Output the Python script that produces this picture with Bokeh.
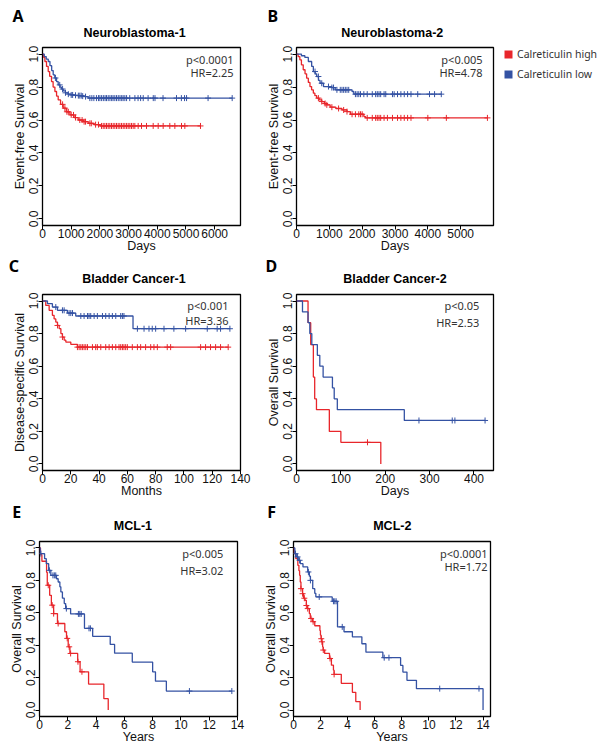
from bokeh.plotting import figure
from bokeh.models import (Range1d, FixedTicker, PrintfTickFormatter, Label, Title,
                          Legend, LegendItem)
from bokeh.layouts import row, column
from bokeh.embed import file_html
from bokeh.resources import INLINE

RED = "#e8262b"
BLUE = "#3452a3"

# ---------------- Panel A: Neuroblastoma-1 (days) ----------------
a_high_t = [40, 83, 140, 199, 250, 314, 370, 432, 490, 547, 630, 721, 830, 955, 1100, 1244, 1420, 1592, 1800, 2000]
a_high_s = [0.98, 0.955, 0.925, 0.894, 0.865, 0.833, 0.80, 0.773, 0.745, 0.722, 0.695, 0.672, 0.65, 0.631, 0.615, 0.600, 0.59, 0.58, 0.572, 0.564]
a_high_c = [700, 780, 850, 900, 1000, 1080, 1150, 1300, 1380, 1450, 1500, 1650, 1700, 1850, 1950,
            2057, 2115, 2173, 2231, 2289, 2347, 2405, 2463, 2521, 2579, 2637, 2695, 2753, 2812, 2870,
            2930, 2986, 3044, 3102, 3160, 3218, 3334, 3450, 3624, 3857, 4031, 4205, 4437, 4612, 4844, 4960, 5505]
a_low_t = [60, 130, 200, 260, 320, 373, 430, 490, 547, 610, 660, 721, 800, 895, 1000, 1120, 1244, 1360, 1477, 1592]
a_low_s = [0.985, 0.97, 0.955, 0.93, 0.90, 0.874, 0.855, 0.833, 0.813, 0.80, 0.788, 0.777, 0.765, 0.757, 0.752, 0.75, 0.748, 0.745, 0.742, 0.733]
a_low_c = [450, 600, 700, 800, 900, 1000, 1050, 1150, 1250, 1300, 1350, 1400, 1500,
           1650, 1720, 1790, 1880, 1950, 2000, 2060, 2120, 2180, 2230, 2290, 2350, 2410, 2460, 2520,
           2580, 2640, 2700, 2760, 2810, 2870, 2930, 3040, 3220, 3330, 3420, 3510, 3680, 3860, 3920,
           4200, 4670, 4840, 4950, 5020, 5770, 6610]

# ---------------- Panel B: Neuroblastoma-2 (days) ----------------
b_high_t = [50, 102, 150, 205, 260, 308, 360, 410, 460, 513, 560, 615, 690, 769, 850, 923, 1025, 1200, 1385, 1538, 1640, 2051, 2103]
b_high_s = [0.985, 0.965, 0.935, 0.905, 0.88, 0.854, 0.828, 0.803, 0.783, 0.763, 0.748, 0.733, 0.722, 0.712, 0.70, 0.692, 0.678, 0.67, 0.661, 0.651, 0.635, 0.621, 0.613]
b_high_c = [667, 769, 872, 923, 1077, 1282, 1436, 1538, 1692, 1795, 1897, 1949, 2000,
            2154, 2308, 2410, 2461, 2513, 2564, 2667, 2769, 2923, 3077, 3179, 3282, 3384, 3487, 4000, 4564, 5815]
b_low_t = [150, 255, 360, 462, 513, 570, 615, 670, 717, 822, 1077, 1180, 1692, 1745]
b_low_s = [0.99, 0.98, 0.955, 0.925, 0.894, 0.88, 0.864, 0.84, 0.823, 0.803, 0.797, 0.783, 0.773, 0.757]
b_low_c = [564, 667, 769, 974, 1077, 1128, 1231, 1333, 1385, 1436, 1487, 1538, 1590, 1795, 1846, 1897,
           1949, 2051, 2154, 2308, 2410, 2461, 2513, 2564, 2667, 2718, 2923, 2974, 3077, 3179, 3282,
           3384, 3487, 3692, 4051, 4205, 4410]

# ---------------- Panel C: Bladder Cancer-1 (months) ----------------
c_high_t = [2.3, 4.7, 7, 8.2, 9.4, 10.6, 11.8, 13, 14.1, 15.3, 16.5, 20, 24.7]
c_high_s = [0.973, 0.943, 0.912, 0.89, 0.871, 0.85, 0.83, 0.80, 0.779, 0.76, 0.748, 0.734, 0.717]
c_high_c = [10.6, 14.1, 24.7, 25.9, 27.1, 28.2, 29.4, 30.6, 31.8, 35.3, 37.6, 38.8, 41.2, 44.7, 47.1,
            49.4, 51.8, 54.1, 55.3, 56.5, 57.6, 58.8, 60, 63.5, 67.1, 69.4, 72.9, 76.5, 78.8, 81.2,
            88.2, 90.6, 111.8, 115.3, 118.8, 122.4, 125.9, 131.3]
c_low_t = [3.5, 7, 10.6, 17.6, 23.5, 64]
c_low_s = [0.984, 0.963, 0.943, 0.926, 0.908, 0.83]
c_low_c = [9.4, 14.1, 15.3, 18.8, 20, 21.2, 27.1, 29.4, 31.8, 32.9, 34.1, 36.5, 38.8, 42.4, 44.7, 47.1,
           49.4, 51.8, 55.3, 56.5, 57.6, 67.1, 71.8, 75.3, 77.6, 80, 85.9, 92.9, 101.2, 116.5, 123.5,
           125.9, 132.5]

# ---------------- Panel D: Bladder Cancer-2 (days) ----------------
d_high_t = [26, 32, 38, 41, 45, 74, 100, 190]
d_high_s = [0.867, 0.733, 0.533, 0.4, 0.333, 0.2, 0.133, 0.0]
d_high_c = [160]
d_low_t = [13.5, 26, 30, 34.5, 47, 52.5, 60, 81, 85, 92, 243]
d_low_s = [0.933, 0.867, 0.8, 0.733, 0.667, 0.6, 0.533, 0.467, 0.4, 0.333, 0.267]
d_low_c = [276, 351, 357, 425]

# ---------------- Panel E: MCL-1 (years) ----------------
e_high_t = [0.07, 0.17, 0.5, 0.55, 0.72, 0.84, 1.0, 1.27, 1.79, 1.91, 2.03, 2.15, 2.70, 2.87, 3.47, 4.55, 4.86]
e_high_s = [0.959, 0.918, 0.85, 0.77, 0.708, 0.647, 0.595, 0.534, 0.483, 0.442, 0.39, 0.349, 0.298, 0.236, 0.16, 0.07, 0.0]
e_high_c = [0.62, 0.9, 1.0, 1.32, 1.96, 2.1, 2.2, 2.72, 3.0]
e_low_t = [0.05, 0.36, 0.48, 0.65, 0.8, 1.2, 1.32, 1.44, 1.51, 1.62, 1.75, 1.85, 2.2, 3.18, 3.76, 5.0, 5.31, 6.56, 8.0, 8.2, 8.97]
e_low_s = [0.965, 0.934, 0.903, 0.862, 0.831, 0.81, 0.79, 0.76, 0.729, 0.69, 0.657, 0.626, 0.593, 0.504, 0.455, 0.405, 0.351, 0.296, 0.236, 0.178, 0.117]
e_low_c = [0.1, 0.7, 0.95, 1.05, 1.15, 1.9, 2.75, 2.85, 2.95, 3.5, 3.6, 10.6, 13.6]

# ---------------- Panel F: MCL-2 (years) ----------------
f_high_t = [0.05, 0.17, 0.32, 0.4, 0.45, 0.5, 0.55, 0.67, 0.75, 0.85, 0.95, 1.04, 1.17, 1.24, 1.4, 1.57, 1.95,
            1.99, 2.04, 2.09, 2.15, 2.19, 2.3, 2.66, 2.8, 2.95, 3.0, 3.53, 4.35, 4.6, 4.92]
f_high_s = [0.965, 0.934, 0.893, 0.86, 0.831, 0.79, 0.749, 0.718, 0.69, 0.677, 0.645, 0.626, 0.595, 0.565, 0.545,
            0.52, 0.49, 0.462, 0.44, 0.421, 0.39, 0.37, 0.349, 0.318, 0.277, 0.246, 0.22, 0.165, 0.109, 0.052, 0.0]
f_high_c = [0.55, 0.67, 0.8, 0.95, 1.05, 1.3, 1.45, 2.05, 2.1, 2.2, 2.7, 3.0]
f_low_t = [0.1, 0.2, 0.35, 0.5, 0.7, 1.05, 1.17, 1.25, 1.42, 1.57, 1.65, 2.86, 3.25, 3.73, 4.35, 5.05, 5.35,
           6.6, 7.91, 8.08, 8.38, 9.08, 14.0]
f_low_s = [0.965, 0.945, 0.924, 0.903, 0.883, 0.852, 0.826, 0.8, 0.749, 0.72, 0.698, 0.671, 0.513, 0.483, 0.452,
           0.409, 0.357, 0.323, 0.275, 0.234, 0.183, 0.132, 0.0]
f_low_c = [0.15, 0.3, 0.45, 1.1, 1.25, 1.9, 2.95, 3.05, 3.15, 3.6, 6.7, 7.05, 10.8, 13.7]

y_ticks = [0.0, 0.2, 0.4, 0.6, 0.8, 1.0]
legend_labels = ["Calreticulin high", "Calreticulin low"]

SANS = "Liberation Sans"
MYR = "Noto Sans"
Y0, Y1 = -0.04, 1.04


def km_line(t, s, end):
    xs = [0.0] + list(t)
    ys = [1.0] + list(s)
    if end > xs[-1]:
        xs.append(end)
        ys.append(ys[-1])
    return xs, ys


def surv_at(t, s, c):
    v = 1.0
    for ti, si in zip(t, s):
        if ti <= c:
            v = si
    return v


def make_panel(width, height, left, right, top, bottom, xr, xticks, xlabel, ylabel,
               title, letter, head, curves, ptxt, hrtxt, tx, ty1, ty2):
    p = figure(width=width, height=height, x_range=Range1d(*xr), y_range=Range1d(Y0, Y1),
               output_backend="svg", toolbar_location=None,
               min_border_left=left, min_border_right=right,
               min_border_top=top, min_border_bottom=bottom)
    p.background_fill_color = "white"
    p.border_fill_color = "white"
    p.outline_line_color = "black"
    p.outline_line_width = 1.3
    p.xgrid.grid_line_color = None
    p.ygrid.grid_line_color = None

    p.xaxis.ticker = FixedTicker(ticks=xticks)
    p.yaxis.ticker = FixedTicker(ticks=y_ticks)
    p.yaxis.formatter = PrintfTickFormatter(format="%.1f")
    p.yaxis.major_label_orientation = "vertical"
    for ax in (p.xaxis, p.yaxis):
        ax.axis_line_color = None
        ax.major_tick_out = 4
        ax.major_tick_in = 0
        ax.major_tick_line_color = "black"
        ax.minor_tick_line_color = None
        ax.major_label_text_font = SANS
        ax.major_label_text_font_size = "12px"
        ax.major_label_text_color = "#111111"
        ax.axis_label_text_font = SANS
        ax.axis_label_text_font_size = "12.5px"
        ax.axis_label_text_font_style = "normal"
        ax.axis_label_text_color = "#111111"
        ax.major_label_standoff = 0
        ax.axis_label_standoff = 0
    p.xaxis.major_label_standoff = -1
    p.xaxis.axis_label_standoff = -2
    p.xaxis.axis_label = xlabel
    p.yaxis.axis_label = ylabel

    for t, s, cens, color in curves:
        end = max([t[-1]] + list(cens))
        xs, ys = km_line(t, s, end)
        p.step(xs, ys, mode="after", line_color=color, line_width=1.3)
        cy = [surv_at(t, s, c) for c in cens]
        p.scatter(cens, cy, marker="cross", size=6, line_color=color, line_width=1)

    for txt, yy in ((ptxt, ty1), (hrtxt, ty2)):
        p.add_layout(Label(x=tx, y=yy, text=txt, text_align="right", text_baseline="middle",
                           text_font=MYR, text_font_size="11px", text_color="#333333"))

    # panel title (nearest the frame) and the panel letter stacked above it
    l_off, l_stand, t_off, t_stand = head
    p.add_layout(Title(text=title, align="left", offset=t_off, vertical_align="top",
                       standoff=t_stand, text_font=SANS, text_font_size="12.5px",
                       text_font_style="bold", text_color="black"), "above")
    p.add_layout(Title(text=letter, align="left", offset=l_off, vertical_align="bottom",
                       standoff=l_stand, text_font=MYR, text_font_size="16px",
                       text_font_style="bold", text_color="black"), "above")
    return p


pA = make_panel(255, 256, 42, 15, 47, 31, (0, 6900), [0, 1000, 2000, 3000, 4000, 5000, 6000],
                "Days", "Event-free Survival", "Neuroblastoma-1", "A", (-30, -12, 41, 10.6),
                [(a_high_t, a_high_s, a_high_c, RED), (a_low_t, a_low_s, a_low_c, BLUE)],
                "p<0.0001", "HR=2.25", 6656, 0.967, 0.886)
pB = make_panel(245, 256, 41, 7, 47, 31, (0, 6000), [0, 1000, 2000, 3000, 4000, 5000],
                "Days", "Event-free Survival", "Neuroblastoma-2", "B", (-29, -12, 44.7, 10.6),
                [(b_high_t, b_high_s, b_high_c, RED), (b_low_t, b_low_s, b_low_c, BLUE)],
                "p<0.005", "HR=4.78", 5665, 0.967, 0.886)

# legend-only figure to the right of panel B (its swatches sit outside its own ranges)
pL = figure(width=103, height=256, x_range=Range1d(0, 1), y_range=Range1d(0, 1),
            output_backend="svg", toolbar_location=None,
            x_axis_location=None, y_axis_location=None,
            min_border_left=3, min_border_top=45, min_border_right=0, min_border_bottom=0)
pL.outline_line_color = None
pL.grid.grid_line_color = None
pL.border_fill_color = "white"
r_hi = pL.quad(left=[5], right=[6], bottom=[5], top=[6], fill_color=RED, line_color=None)
r_lo = pL.quad(left=[5], right=[6], bottom=[5], top=[6], fill_color=BLUE, line_color=None)
legend = Legend(items=[LegendItem(label=legend_labels[0], renderers=[r_hi]),
                       LegendItem(label=legend_labels[1], renderers=[r_lo])],
                location="top_left", border_line_color=None, background_fill_alpha=0,
                label_text_font=MYR, label_text_font_size="10.5px", label_text_color="#333333",
                glyph_width=10, glyph_height=10, label_height=10, spacing=6,
                label_standoff=4, padding=0, margin=0)
pL.add_layout(legend)

pC = make_panel(255, 244, 42, 15, 38, 30, (0, 140), [0, 20, 40, 60, 80, 100, 120, 140],
                "Months", "Disease-specific Survival", "Bladder Cancer-1", "C", (-33.7, -23.6, 39.7, 12.6),
                [(c_high_t, c_high_s, c_high_c, RED), (c_low_t, c_low_s, c_low_c, BLUE)],
                "p<0.001", "HR=3.36", 131.5, 0.9725, 0.8805)
pD = make_panel(245, 244, 41, 7, 38, 30, (0, 444), [0, 100, 200, 300, 400],
                "Days", "Overall Survival", "Bladder Cancer-2", "D", (-31, -23.6, 46.7, 12.6),
                [(d_high_t, d_high_s, d_high_c, RED), (d_low_t, d_low_s, d_low_c, BLUE)],
                "p<0.05", "HR=2.53", 412, 0.9725, 0.87)
pE = make_panel(255, 252, 39, 18, 41, 36, (0, 14), [0, 2, 4, 6, 8, 10, 12, 14],
                "Years", "Overall Survival", "MCL-1", "E", (-27.3, -20.6, 74.3, 12.6),
                [(e_high_t, e_high_s, e_high_c, RED), (e_low_t, e_low_s, e_low_c, BLUE)],
                "p<0.005", "HR=3.02", 13.0, 0.966, 0.863)
pF = make_panel(245, 252, 38, 10, 41, 36, (0, 14.55), [0, 2, 4, 6, 8, 10, 12, 14],
                "Years", "Overall Survival", "MCL-2", "F", (-26.3, -20.6, 79.7, 12.6),
                [(f_high_t, f_high_s, f_high_c, RED), (f_low_t, f_low_s, f_low_c, BLUE)],
                "p<0.0001", "HR=1.72", 14.33, 0.966, 0.884)

layout = column(row(pA, pB, pL), row(pC, pD), row(pE, pF))

open("out.html", "w").write(file_html(layout, INLINE))
